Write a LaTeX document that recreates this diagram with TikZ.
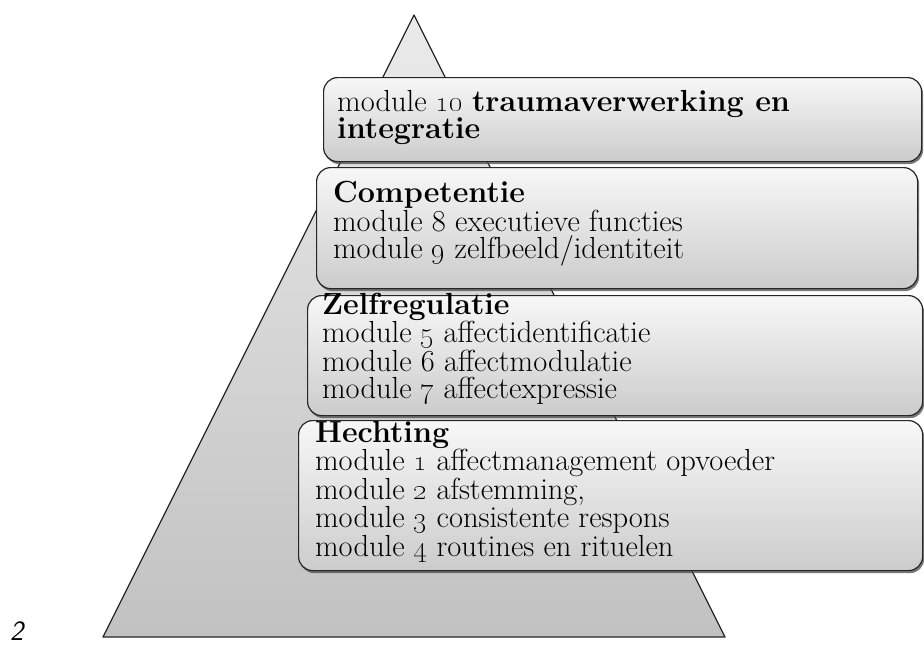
\documentclass[tikz,border=0pt]{standalone}
\usetikzlibrary{shadows}
\newcommand{\modnr}[1]{\oldstylenums{#1}}

\begin{document}
\begin{tikzpicture}[x=1pt, y=-1pt,
	modbox/.style={draw=black!85, line width=1.2pt, rounded corners=14pt, top color=black!3, bottom color=black!20, anchor=north west, inner sep=0,
		drop shadow={shadow xshift=1.5pt, shadow yshift=-2.5pt, opacity=.75, fill=black!70}},
	modtxt/.style={anchor=base west, align=left, inner sep=0, font=\fontsize{30.5}{27}\selectfont}]
	\useasboundingbox (0,0) rectangle (924,645);
	% pyramid behind the modules
	\draw[line width=1.3pt, line join=round, draw=black!85, top color=black!8, bottom color=black!24] (414,15) -- (725,637) -- (103,637) -- cycle;
	\node[modbox, minimum width=598pt, minimum height=84pt] (trauma) at (323,77) {};
	\node[modbox, minimum width=601pt, minimum height=121pt] (comp) at (316,167) {};
	\node[modbox, minimum width=615pt, minimum height=120pt] (zelf) at (307,295) {};
	\node[modbox, minimum width=624pt, minimum height=150pt] (hecht) at (298,420) {};
	% text nodes sit on the baseline of their last line
	\node[modtxt] (traumatxt) at (337,138) {module \modnr{10} \textbf{traumaverwerking en}\\\textbf{integratie}};
	\node[modtxt] (comptxt) at (333,258) {\textbf{Competentie}\\module 8 executieve functies\\module \modnr{9} zelfbeeld/identiteit};
	\node[modtxt] (zelftxt) at (322,398) {\textbf{Zelfregulatie}\\module \modnr{5} affectidentificatie\\module 6 affectmodulatie\\module \modnr{7} affectexpressie};
	\node[modtxt] (hechttxt) at (315,556) {\textbf{Hechting}\\module \modnr{1} affectmanagement opvoeder\\module \modnr{2} afstemming,\\module \modnr{3} consistente respons\\module \modnr{4} routines en rituelen};
	\node[anchor=base west, inner sep=0, font=\fontsize{28}{28}\sffamily\itshape] (fignr) at (10,640) {2};
\end{tikzpicture}
\end{document}
